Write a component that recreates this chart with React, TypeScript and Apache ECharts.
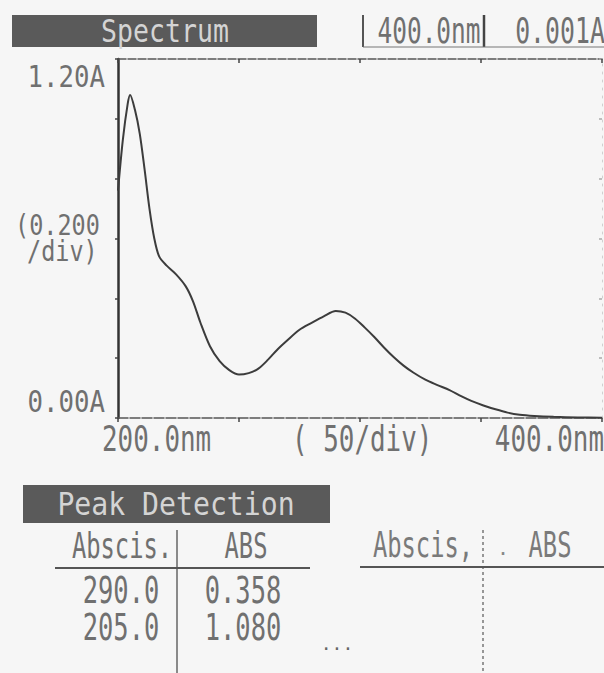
import React, { useEffect, useRef } from "react";
import * as echarts from "echarts";

// Spectrum data (wavelength in nm, absorbance in A)
const wavelengths = [200, 202, 204, 205, 207, 209, 211, 213, 215, 217, 220, 224, 228, 231, 234, 238, 242, 246, 250, 254, 258, 262, 266, 270, 275, 280, 285, 290, 294, 298, 302, 306, 310, 314, 318, 322, 327, 332, 337, 342, 346, 351, 356, 361, 366, 372, 380, 390, 400];
const absorbance = [0.76, 0.93, 1.05, 1.08, 1.03, 0.95, 0.83, 0.70, 0.60, 0.54, 0.51, 0.48, 0.44, 0.39, 0.32, 0.24, 0.19, 0.16, 0.145, 0.15, 0.165, 0.195, 0.23, 0.26, 0.295, 0.318, 0.34, 0.358, 0.352, 0.332, 0.302, 0.27, 0.235, 0.203, 0.175, 0.152, 0.128, 0.11, 0.093, 0.072, 0.057, 0.042, 0.029, 0.018, 0.011, 0.007, 0.004, 0.002, 0.001];

// Axis texts
const xTickLabels = ["200.0nm", "400.0nm"];
const xDivLabel = "( 50/div)";
const yTickLabels = ["0.00A", "1.20A"];
const yDivLabel = ["(0.200", "/div)"];

// Header texts
const titleText = "Spectrum";
const headerValues = ["400.0nm", "0.001A"];

// Peak detection table
const peakTitle = "Peak Detection";
const tableHeaders = ["Abscis.", "ABS"];
const peakAbscis = ["290.0", "205.0"];
const peakAbs = ["0.358", "1.080"];

const FONT = "DejaVu Sans Mono";
const TXT = "#707070";

function txt(text: string, x: number, y: number, size: number, sx: number, align: string, fill: string = TXT) {
  return {
    type: "text",
    x,
    y,
    scaleX: sx,
    silent: true,
    style: {
      text,
      font: `${size}px "${FONT}"`,
      fill,
      textAlign: align,
      textVerticalAlign: "middle",
    },
  };
}

function hline(x1: number, x2: number, y: number, color = "#555", w = 1.5, dash: any = null) {
  return {
    type: "line",
    silent: true,
    shape: { x1, y1: y, x2, y2: y },
    style: { stroke: color, lineWidth: w, lineDash: dash },
  };
}

function vline(x: number, y1: number, y2: number, color = "#555", w = 1.5, dash: any = null) {
  return {
    type: "line",
    silent: true,
    shape: { x1: x, y1, x2: x, y2 },
    style: { stroke: color, lineWidth: w, lineDash: dash },
  };
}

export default function App() {
  const ref = useRef<HTMLDivElement>(null);

  useEffect(() => {
    if (!ref.current) return;
    const chart = echarts.init(ref.current, null, { renderer: "svg" });

    const seriesData = wavelengths.map((w, i) => [w, absorbance[i]]);

    const graphics: any[] = [
      // Spectrum title box
      {
        type: "rect",
        silent: true,
        shape: { x: 12, y: 15, width: 305, height: 32 },
        style: { fill: "#5a5a5a" },
      },
      txt(titleText, 165, 31, 32, 0.83, "center", "#d4d4d4"),
      // header values
      vline(363, 15, 47, "#555", 2),
      txt(headerValues[0], 429, 30, 36, 0.68, "center"),
      vline(484, 15, 47, "#444", 2.5),
      txt(headerValues[1], 560, 30, 36, 0.69, "center"),
      hline(363, 604, 47, "#777", 1.2),
      // y axis labels
      txt(yTickLabels[1], 105, 77, 31, 0.83, "right"),
      txt(yDivLabel[0], 15, 225, 29, 0.81, "left"),
      txt(yDivLabel[1], 27, 251, 29, 0.81, "left"),
      txt(yTickLabels[0], 105, 402, 31, 0.83, "right"),
      // x axis labels
      txt(xTickLabels[0], 102, 438, 36, 0.72, "left"),
      txt(xDivLabel, 292, 438, 36, 0.72, "left"),
      txt(xTickLabels[1], 604, 438, 36, 0.72, "right"),
      // Peak detection title box
      {
        type: "rect",
        silent: true,
        shape: { x: 23, y: 485, width: 307, height: 38 },
        style: { fill: "#5a5a5a" },
      },
      txt(peakTitle, 176, 504, 32, 0.88, "center", "#d4d4d4"),
      // Table 1
      txt(tableHeaders[0], 122, 546, 35, 0.68, "center"),
      txt(tableHeaders[1], 246, 546, 35, 0.68, "center"),
      vline(177, 530, 673, "#666", 1.5),
      hline(55, 310, 568, "#555", 1.8),
      txt(peakAbscis[0], 121, 590, 38, 0.67, "center"),
      txt(peakAbs[0], 243, 590, 38, 0.67, "center"),
      txt(peakAbscis[1], 121, 627, 38, 0.67, "center"),
      txt(peakAbs[1], 243, 627, 38, 0.67, "center"),
      txt("...", 337, 643, 18, 1, "center", "#666"),
      // Table 2
      txt(tableHeaders[0].replace(".", ","), 423, 545, 35, 0.68, "center", "#7a7a7a"),
      txt(tableHeaders[1], 550, 545, 35, 0.68, "center", "#7a7a7a"),
      txt(".", 503, 548, 20, 1, "center", "#888"),
      vline(483, 530, 673, "#777", 1.5, [3, 3]),
      hline(360, 604, 567, "#555", 1.8),
    ];

    chart.setOption({
      animation: false,
      backgroundColor: "#f6f6f6",
      grid: { left: 118, right: 2, top: 59, bottom: 255 },
      xAxis: [
        {
          type: "value",
          min: 200,
          max: 400,
          interval: 50,
          position: "bottom",
          axisLine: { show: true, onZero: false, lineStyle: { color: "#555", width: 1.5, type: [10, 2] } },
          axisTick: { show: true, length: 4, lineStyle: { color: "#444", width: 1.5 } },
          axisLabel: { show: false },
          splitLine: { show: false },
        },
        {
          type: "value",
          min: 200,
          max: 400,
          interval: 50,
          position: "top",
          axisLine: { show: true, onZero: false, lineStyle: { color: "#555", width: 1.5, type: [8, 2] } },
          axisTick: { show: true, inside: true, length: 4, lineStyle: { color: "#444", width: 1.5 } },
          axisLabel: { show: false },
          splitLine: { show: false },
        },
      ],
      yAxis: [
        {
          type: "value",
          min: 0,
          max: 1.2,
          interval: 0.2,
          position: "left",
          axisLine: { show: true, onZero: false, lineStyle: { color: "#333", width: 2.5 } },
          axisTick: { show: true, length: 3, lineStyle: { color: "#444", width: 1.5 } },
          axisLabel: { show: false },
          splitLine: { show: false },
        },
        {
          type: "value",
          min: 0,
          max: 1.2,
          interval: 0.2,
          position: "right",
          axisLine: { show: true, onZero: false, lineStyle: { color: "#d0d0d0", width: 1, type: [2, 6] } },
          axisTick: { show: true, inside: true, length: 3, lineStyle: { color: "#aaa", width: 1.5 } },
          axisLabel: { show: false },
          splitLine: { show: false },
        },
      ],
      series: [
        {
          type: "line",
          xAxisIndex: 0,
          yAxisIndex: 0,
          data: seriesData,
          showSymbol: false,
          smooth: 0.3,
          lineStyle: { color: "#3c3c3c", width: 2 },
        },
      ],
      graphic: graphics,
    });

    return () => chart.dispose();
  }, []);

  return (
    <div
      ref={ref}
      style={{ position: "absolute", left: 0, top: 0, width: 604, height: 673 }}
    />
  );
}
